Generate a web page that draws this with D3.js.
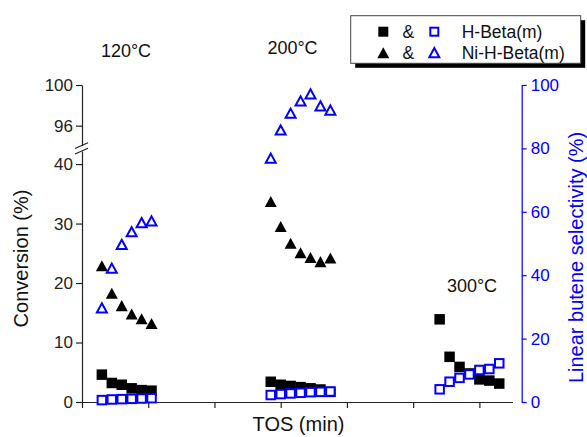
<!DOCTYPE html>
<html><head><meta charset="utf-8">
<script src="https://cdn.jsdelivr.net/npm/d3@7"></script>
<style>html,body{margin:0;padding:0;background:#fff;}svg{display:block;font-family:"Liberation Sans",Arial,sans-serif;}</style>
</head><body>
<svg id="c" width="587" height="437"></svg>
<script>
// ---- data ----
const tos120 = [30, 45, 60, 75, 90, 105];
const tos200 = [285, 300, 315, 330, 345, 360, 375];
const tos300 = [540, 555, 570, 585, 600, 615, 630];

const convHBeta120 = [4.6, 3.2, 2.9, 2.3, 2.0, 1.9];
const convHBeta200 = [3.4, 2.9, 2.7, 2.5, 2.3, 2.1, 1.7];
const convHBeta300 = [13.9, 7.6, 5.9, 4.8, 3.8, 3.6, 3.1];

const convNi120 = [22.9, 18.3, 16.2, 14.8, 14.0, 13.2];
const convNi200 = [33.7, 29.5, 26.7, 25.1, 24.3, 23.6, 24.2];

const selHBeta120 = [0.6, 0.8, 0.9, 1.0, 1.1, 1.2];
const selHBeta200 = [2.2, 2.5, 2.7, 2.9, 3.1, 3.2, 3.3];
const selHBeta300 = [4.0, 6.4, 7.6, 8.7, 10.1, 10.4, 12.2];

const selNi120 = [29.7, 42.2, 49.7, 53.7, 56.6, 57.1];
const selNi200 = [76.9, 85.8, 91.1, 95.0, 97.2, 93.4, 92.1];

const xTicks = [0, 100, 200, 300, 400, 500, 600];
const yLowTicks = [0, 10, 20, 30, 40];
const yHighTicks = [96, 100];
const yRightTicks = [0, 20, 40, 60, 80, 100];
const tempLabels = ["120°C", "200°C", "300°C"];
const legendNames = ["H-Beta(m)", "Ni-H-Beta(m)"];

// ---- scales ----
const svg = d3.select("#c");
const x = d3.scaleLinear().domain([0, 650]).range([82, 512.5]);
const yLow = d3.scaleLinear().domain([0, 42.2]).range([402, 151]);
const yHigh = d3.scaleLinear().domain([94.05, 100]).range([145.5, 85]);
const yR = d3.scaleLinear().domain([0, 100]).range([402, 85]);

const axisCol = "#222";
const blue = "#0000ff";
const fmt = d3.format("d");

function styleAxis(g, col) {
  g.selectAll("path").attr("stroke", col).attr("stroke-width", 1.2);
  g.selectAll("line").attr("stroke", col).attr("stroke-width", 1.2);
  g.selectAll("text").attr("fill", col).style("font-size", "17px").style("font-family", "'Liberation Sans',Arial,sans-serif");
}

// x axis
svg.append("g").attr("transform", "translate(0,402)")
  .call(d3.axisBottom(x).tickValues(xTicks).tickFormat("").tickSize(6).tickSizeOuter(0))
  .call(g => styleAxis(g, axisCol));

// left axis, lower part
svg.append("g").attr("transform", `translate(${x(0)},0)`)
  .call(d3.axisLeft(yLow).tickValues(yLowTicks).tickFormat(fmt).tickSize(6).tickPadding(3).tickSizeOuter(0))
  .call(g => styleAxis(g, axisCol));
// left axis, upper part
svg.append("g").attr("transform", `translate(${x(0)},0)`)
  .call(d3.axisLeft(yHigh).tickValues(yHighTicks).tickFormat(fmt).tickSize(6).tickPadding(3).tickSizeOuter(0))
  .call(g => styleAxis(g, axisCol));
// break marks
[145.5, 151].forEach(yy => {
  svg.append("line").attr("x1", x(0) - 7).attr("x2", x(0) + 6)
    .attr("y1", yy + 3).attr("y2", yy - 2.8)
    .attr("stroke", axisCol).attr("stroke-width", 1.2);
});

// right axis
svg.append("g").attr("transform", "translate(521.7,0)")
  .call(d3.axisRight(yR).tickValues(yRightTicks).tickFormat(fmt).tickSize(5).tickPadding(4).tickSizeOuter(0))
  .call(g => styleAxis(g, blue));

// ---- markers ----
const sq = 10.5, tri = 12;
function squares(xs, ys, yScale, filled) {
  svg.append("g").selectAll("rect").data(xs.map((d, i) => [d, ys[i]])).join("rect")
    .attr("x", d => x(d[0]) - (filled ? sq / 2 : (sq - 2) / 2))
    .attr("y", d => yScale(d[1]) - (filled ? sq / 2 : (sq - 2) / 2))
    .attr("width", filled ? sq : sq - 2).attr("height", filled ? sq : sq - 2)
    .attr("fill", filled ? "#000" : "#fff")
    .attr("stroke", filled ? "none" : blue).attr("stroke-width", 2);
}
function triPath(cx, cy, s) {
  const h = s * 0.92;
  return `M${cx},${cy - h / 2}L${cx + s / 2},${cy + h / 2}L${cx - s / 2},${cy + h / 2}Z`;
}
function triangles(xs, ys, yScale, filled) {
  const s = filled ? tri : tri - 2;
  svg.append("g").selectAll("path").data(xs.map((d, i) => [d, ys[i]])).join("path")
    .attr("d", d => triPath(x(d[0]), yScale(d[1]), s))
    .attr("fill", filled ? "#000" : "none")
    .attr("stroke", filled ? "none" : blue).attr("stroke-width", 2).attr("stroke-linejoin", "miter");
}

triangles(tos120, convNi120, yLow, true);
triangles(tos200, convNi200, yLow, true);
squares(tos120, convHBeta120, yLow, true);
squares(tos200, convHBeta200, yLow, true);
squares(tos300, convHBeta300, yLow, true);
triangles(tos120, selNi120, yR, false);
triangles(tos200, selNi200, yR, false);
squares(tos120, selHBeta120, yR, false);
squares(tos200, selHBeta200, yR, false);
squares(tos300, selHBeta300, yR, false);

// ---- texts ----
const txt = (s, xx, yy, size, col, anchor) => svg.append("text").text(s)
  .attr("x", xx).attr("y", yy).attr("fill", col || "#111")
  .attr("text-anchor", anchor || "middle").style("font-size", size + "px");

txt(tempLabels[0], 126, 56.5, 18);
txt(tempLabels[1], 292.5, 54, 18);
txt(tempLabels[2], 472, 292, 18);
txt("TOS (min)", 298.5, 431, 20);
svg.append("text").text("Conversion (%)")
  .attr("transform", "translate(27.6,258.5) rotate(-90)")
  .attr("text-anchor", "middle").attr("fill", "#111").style("font-size", "20px");
svg.append("text").text("Linear butene selectivity (%)")
  .attr("transform", "translate(583,257.5) rotate(-90)")
  .attr("text-anchor", "middle").attr("fill", blue).style("font-size", "20px");

// ---- legend ----
const lg = svg.append("g");
lg.append("rect").attr("x", 355.2).attr("y", 20.2).attr("width", 230).attr("height", 47.6).attr("fill", "#000");
lg.append("rect").attr("x", 350.7).attr("y", 15.7).attr("width", 230).attr("height", 47.6)
  .attr("fill", "#fff").attr("stroke", "#444").attr("stroke-width", 1);
const rowY = [31.7, 52.7];
lg.append("rect").attr("x", 383.3 - 5).attr("y", rowY[0] - 5).attr("width", 10).attr("height", 10).attr("fill", "#000");
lg.append("rect").attr("x", 434.3 - 4).attr("y", rowY[0] - 4).attr("width", 8).attr("height", 8)
  .attr("fill", "#fff").attr("stroke", blue).attr("stroke-width", 2);
lg.append("path").attr("d", triPath(383.3, rowY[1], 12)).attr("fill", "#000");
lg.append("path").attr("d", triPath(434.3, rowY[1], 10)).attr("fill", "none").attr("stroke", blue).attr("stroke-width", 2);
rowY.forEach((yy, i) => {
  lg.append("text").text("&").attr("x", 408.3).attr("y", yy + 6).attr("text-anchor", "middle").attr("fill", "#111").style("font-size", "17.5px");
  lg.append("text").text(legendNames[i]).attr("x", 461.7).attr("y", yy + 6).attr("text-anchor", "start").attr("fill", "#111").style("font-size", "17.5px");
});
</script>
</body></html>
